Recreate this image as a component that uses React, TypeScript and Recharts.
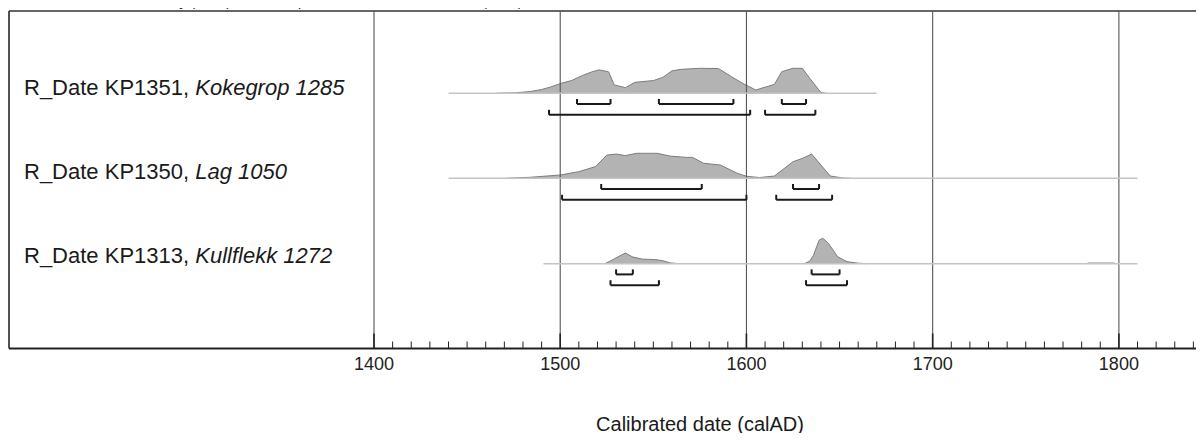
import React from "react";
import { Area, ComposedChart, ReferenceLine, XAxis, YAxis } from "recharts";

const headerText =
  "OxCal v4.4.4 Bronk Ramsey (2021); r:5 Atmospheric data from Reimer et al (2020)";
const axisTitle = "Calibrated date (calAD)";

const sampleNames = ["R_Date KP1351, ", "R_Date KP1350, ", "R_Date KP1313, "];
const sampleContexts = ["Kokegrop 1285", "Lag 1050", "Kullflekk 1272"];

// posterior curves, relative to each row's peak
const kp1351Years = [1466, 1476, 1484, 1490, 1495, 1500, 1506, 1512, 1517, 1521, 1526, 1529, 1535, 1540, 1550, 1555, 1560, 1565, 1575, 1585, 1592, 1598, 1605, 1615, 1619, 1625, 1630, 1634, 1640, 1643];
const kp1351Prob = [0, 0.02, 0.07, 0.15, 0.25, 0.38, 0.5, 0.7, 0.84, 0.92, 0.84, 0.33, 0.22, 0.43, 0.5, 0.62, 0.88, 0.94, 0.98, 0.97, 0.65, 0.39, 0.13, 0.35, 0.85, 0.98, 0.98, 0.59, 0.03, 0];

const kp1350Years = [1471, 1484, 1500, 1510, 1519, 1525, 1530, 1535, 1541, 1552, 1559, 1568, 1571, 1577, 1586, 1595, 1600, 1607, 1615, 1625, 1630, 1635, 1645, 1652, 1656];
const kp1350Prob = [0, 0.04, 0.13, 0.26, 0.46, 0.91, 0.95, 0.89, 0.98, 0.98, 0.87, 0.82, 0.82, 0.59, 0.52, 0.2, 0.08, 0.03, 0.09, 0.65, 0.78, 0.95, 0.09, 0.01, 0];

const kp1313EarlyYears = [1524, 1528, 1535, 1539, 1544, 1551, 1555, 1559, 1564];
const kp1313EarlyProb = [0, 0.15, 0.42, 0.26, 0.18, 0.16, 0.12, 0.03, 0];
const kp1313LateYears = [1631, 1634, 1636, 1639, 1641, 1644, 1649, 1654, 1660, 1665];
const kp1313LateProb = [0, 0.1, 0.33, 0.92, 1.0, 0.8, 0.27, 0.08, 0.02, 0];
const kp1313TailYears = [1782, 1784, 1797, 1799];
const kp1313TailProb = [0, 0.025, 0.025, 0];

// extent of each row's calculated range
const rowSpans = [
  [1440, 1670],
  [1440, 1810],
  [1491, 1810],
];

// 68.3% and 95.4% highest posterior density ranges
const hpd68 = [
  [[1509, 1527], [1553, 1593], [1619, 1632]],
  [[1522, 1576], [1625, 1639]],
  [[1530, 1539], [1635, 1650]],
];
const hpd95 = [
  [[1494, 1602], [1610, 1637]],
  [[1501, 1600], [1616, 1646]],
  [[1527, 1553], [1632, 1654]],
];

const centuryTicks = [1400, 1500, 1600, 1700, 1800];
const decadeTicks = Array.from({ length: 46 }, (_, i) => 1400 + i * 10);

const X_DOMAIN: [number, number] = [1204, 1850];
const PLOT_H = 337.5;
const ROW_BASE = [255.2, 170.2, 84.8];
const ROW_H = 25.5;
const FONT = "'Liberation Sans', Arial, Helvetica, sans-serif";

const series = [
  { key: "kp1351", row: 0, years: kp1351Years, prob: kp1351Prob },
  { key: "kp1350", row: 1, years: kp1350Years, prob: kp1350Prob },
  { key: "kp1313a", row: 2, years: kp1313EarlyYears, prob: kp1313EarlyProb },
  { key: "kp1313b", row: 2, years: kp1313LateYears, prob: kp1313LateProb },
  { key: "kp1313c", row: 2, years: kp1313TailYears, prob: kp1313TailProb },
];

const byYear = new Map<number, any>();
series.forEach((s) => {
  s.years.forEach((yr, i) => {
    const d = byYear.get(yr) ?? { year: yr };
    d[s.key] = s.prob[i];
    byYear.set(yr, d);
  });
});
const data = Array.from(byYear.values()).sort((a, b) => a.year - b.year);

function YearTick(props: any) {
  const { x, y, payload } = props;
  const major = payload.value % 100 === 0;
  return (
    <g>
      <line
        x1={x}
        x2={x}
        y1={y}
        y2={y - (major ? 15 : 7)}
        stroke="#222"
        strokeWidth={major ? 1.6 : 1}
      />
      {major && (
        <text x={x} y={y + 21.5} textAnchor="middle" fontSize={18} fill="#222" fontFamily={FONT}>
          {payload.value}
        </text>
      )}
    </g>
  );
}

function brackets(row: number, ranges: number[][], drop: number, prefix: string) {
  const level = ROW_BASE[row] - drop;
  const out: React.ReactNode[] = [];
  ranges.forEach(([from, to], i) => {
    const k = `${prefix}-${row}-${i}`;
    out.push(
      <ReferenceLine key={k + "h"} segment={[{ x: from, y: level }, { x: to, y: level }]} stroke="#1a1a1a" strokeWidth={2} />,
      <ReferenceLine key={k + "l"} segment={[{ x: from, y: level }, { x: from, y: level + 5 }]} stroke="#1a1a1a" strokeWidth={2} />,
      <ReferenceLine key={k + "r"} segment={[{ x: to, y: level }, { x: to, y: level + 5 }]} stroke="#1a1a1a" strokeWidth={2} />
    );
  });
  return out;
}

export default function App() {
  return (
    <div style={{ position: "relative", width: 1204, height: 441, overflow: "hidden", margin: -8, background: "#fff", fontFamily: FONT }}>
      <div style={{ position: "absolute", left: 10, top: -6, fontSize: 14, lineHeight: "14px", color: "#222", whiteSpace: "nowrap" }}>
        {headerText}
      </div>

      <ComposedChart
        width={1240}
        height={441}
        data={data}
        margin={{ top: 11, right: 28, left: 9, bottom: 0 }}
      >
        <XAxis
          dataKey="year"
          type="number"
          domain={X_DOMAIN}
          ticks={decadeTicks}
          interval={0}
          tick={<YearTick />}
          tickLine={false}
          tickSize={0}
          tickMargin={0}
          height={92.5}
          axisLine={{ stroke: "#222", strokeWidth: 2 }}
        />
        <YAxis hide type="number" domain={[0, PLOT_H]} />

        <ReferenceLine y={PLOT_H} stroke="#333" strokeWidth={1.7} />
        <ReferenceLine x={X_DOMAIN[0]} stroke="#333" strokeWidth={1.7} />
        {centuryTicks.map((c) => (
          <ReferenceLine key={c} x={c} stroke="#555" strokeWidth={1.1} />
        ))}

        {rowSpans.map(([a, b], row) => (
          <ReferenceLine
            key={"span" + row}
            segment={[{ x: a, y: ROW_BASE[row] }, { x: b, y: ROW_BASE[row] }]}
            stroke="#c4c4c4"
            strokeWidth={1.5}
          />
        ))}

        {series.map((s) => (
          <Area
            key={s.key}
            type="linear"
            dataKey={(d: any) => (d[s.key] == null ? null : ROW_BASE[s.row] + d[s.key] * ROW_H)}
            baseValue={ROW_BASE[s.row]}
            connectNulls
            stroke="#7d7d7d"
            strokeWidth={1}
            fill="#b3b3b3"
            fillOpacity={1}
            dot={false}
            activeDot={false}
            isAnimationActive={false}
          />
        ))}

        {hpd68.flatMap((r, row) => brackets(row, r, 10.7, "s"))}
        {hpd95.flatMap((r, row) => brackets(row, r, 21.5, "l"))}
      </ComposedChart>

      {sampleNames.map((name, i) => (
        <div
          key={name}
          style={{
            position: "absolute",
            left: 24,
            top: [77.1, 161.4, 245.4][i],
            fontSize: 22,
            lineHeight: "22px",
            color: "#1a1a1a",
            whiteSpace: "nowrap",
          }}
        >
          {name}
          <i>{sampleContexts[i]}</i>
        </div>
      ))}

      <div
        style={{
          position: "absolute",
          left: 700,
          top: 414,
          transform: "translateX(-50%)",
          fontSize: 20,
          lineHeight: "20px",
          color: "#1a1a1a",
          whiteSpace: "nowrap",
        }}
      >
        {axisTitle}
      </div>
    </div>
  );
}
